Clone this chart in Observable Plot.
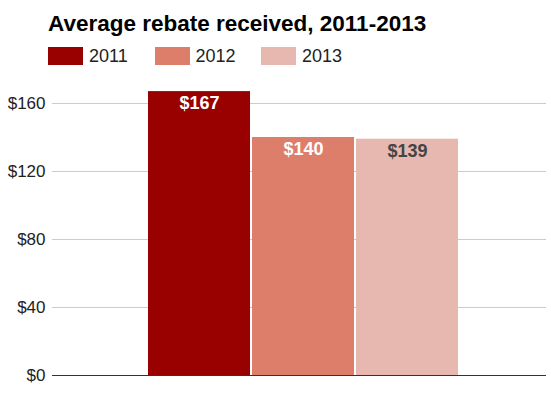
<!DOCTYPE html>
<html>
<head>
<meta charset="utf-8">
<script src="https://cdn.jsdelivr.net/npm/d3@7"></script>
<script src="https://cdn.jsdelivr.net/npm/@observablehq/plot@0.6"></script>
<style>
  html, body { margin: 0; padding: 0; background: #fff; }
  body { width: 551px; height: 398px; font-family: "Liberation Sans", Arial, sans-serif; position: relative; overflow: hidden; }
  #title { position: absolute; left: 48px; top: 10px; font-size: 22.5px; font-weight: bold; color: #000; line-height: 28px; white-space: nowrap; }
  #legend { position: absolute; left: 48px; top: 47px; height: 18px; }
  .item { position: absolute; top: 0; height: 18px; white-space: nowrap; }
  .sw { position: absolute; left: 0; top: 0; width: 35px; height: 18px; }
  .lab { position: absolute; left: 41px; top: 0; font-size: 18px; line-height: 19px; color: #222; }
  #chart { position: absolute; left: 0; top: 70px; }
</style>
</head>
<body>
<div id="title">Average rebate received, 2011-2013</div>
<div id="legend"></div>
<div id="chart"></div>
<script>
const years = ["2011", "2012", "2013"];
const rebates = [167, 140, 139];
const colors = ["#990000", "#dd7e6b", "#e6b8af"];
const labelColors = ["#ffffff", "#ffffff", "#444444"];
const yTicks = [0, 40, 80, 120, 160];

const data = years.map((y, i) => ({year: y, value: rebates[i]}));

// legend
const legend = document.getElementById("legend");
years.forEach((y, i) => {
  const item = document.createElement("div");
  item.className = "item";
  item.style.left = (i * 106.5) + "px";
  const sw = document.createElement("div");
  sw.className = "sw";
  sw.style.background = colors[i];
  const lab = document.createElement("div");
  lab.className = "lab";
  lab.textContent = y;
  item.appendChild(sw);
  item.appendChild(lab);
  legend.appendChild(item);
});

const chart = Plot.plot({
  width: 551,
  height: 328,
  marginLeft: 52,
  marginRight: 5,
  marginTop: 16,
  marginBottom: 23,
  style: {fontFamily: "Liberation Sans, Arial, sans-serif", background: "#fff"},
  x: {domain: years, range: [147, 459], padding: 0, axis: null},
  y: {domain: [0, 170], axis: null},
  color: {domain: years, range: colors},
  marks: [
    Plot.ruleY(yTicks.filter(d => d > 0), {stroke: "#cccccc", strokeWidth: 1}),
    Plot.barY(data, {x: "year", y: "value", fill: "year", insetLeft: 1, insetRight: 1}),
    Plot.ruleY([0], {stroke: "#333333", strokeWidth: 1}),
    Plot.axisY(yTicks, {tickSize: 0, tickPadding: 7, tickFormat: d => "$" + d, fontSize: 17, fill: "#222", label: null}),
    ...data.map((d, i) => Plot.text([d], {
      x: "year", y: "value", text: v => "$" + v.value,
      dy: 12, fill: labelColors[i], fontWeight: "bold", fontSize: 18
    }))
  ]
});
document.getElementById("chart").appendChild(chart);
</script>
</body>
</html>
